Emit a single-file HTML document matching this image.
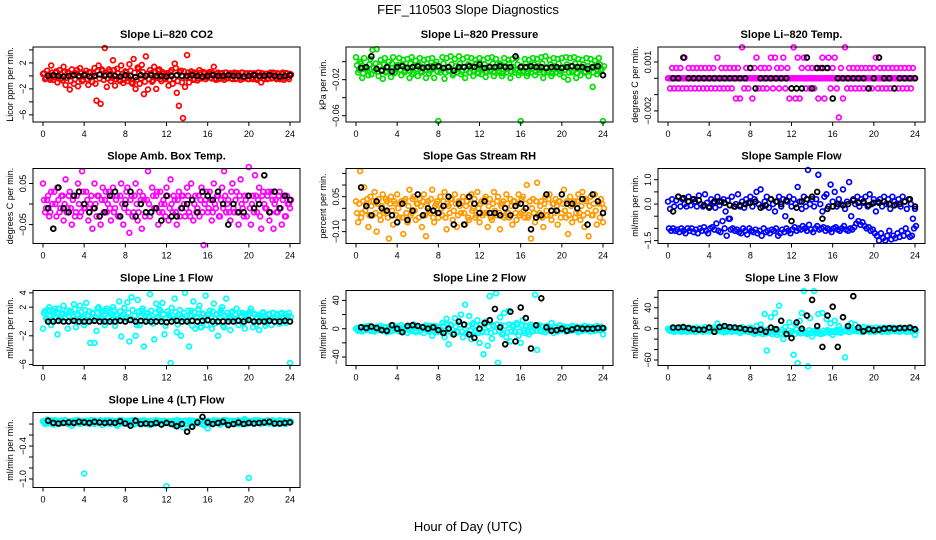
<!DOCTYPE html>
<html><head><meta charset="utf-8"><title>FEF_110503 Slope Diagnostics</title>
<style>
html,body{margin:0;padding:0;background:#fff;}
svg{display:block;font-family:"Liberation Sans",sans-serif;}
</style></head>
<body>
<svg id="chart" width="936" height="540" viewBox="0 0 936 540">
<text x="468" y="14" text-anchor="middle" font-size="13">FEF_110503  Slope Diagnostics</text>
<text x="468" y="531" text-anchor="middle" font-size="13">Hour of Day (UTC)</text>
</svg>
<script>
const xTicks = [0,4,8,12,16,20,24];
const colorStep = 0.2;
const blackStep = 0.5;

// ---- Panel 1: Li-820 CO2
const co2Vals = [0.3,-0.5,0.8,-0.3,1.6,-0.6,0.5,-1.0,0.9,-0.4,1.4,
-1.4,0.6,-2.1,1.0,-1.2,0.4,-1.6,1.2,-0.8,0.2,
0.8,-1.4,0.5,-0.9,1.2,-3.8,1.6,-4.3,0.8,4.3,
-1.7,1.0,-0.8,2.4,-1.5,1.1,-0.6,1.6,-1.1,0.7,
-0.8,1.8,-1.0,2.6,-2.0,1.3,-1.2,1.7,-2.8,3.0,
-2.1,0.9,-0.9,1.4,-2.0,0.8,-0.5,0.6,-0.3,0.4,
-1.5,0.6,-1.2,1.9,-2.6,-4.6,0.8,-6.5,-1.7,3.2,
-1.0,0.7,-0.6,0.5,-0.7,0.9,-0.4,0.6,-0.5,0.3,
0.6,-0.4,1.4,-0.6,0.5,-0.3,0.4,-0.6,0.5,-0.3,
0.4,-0.5,0.5,-0.4,0.3,-0.6,0.5,-0.3,0.4,-0.5,
0.4,-0.5,0.3,-0.6,0.5,-1.0,-0.4,0.3,-0.5,0.4,
-0.4,0.5,-0.3,0.4,-0.5,0.3,-0.6,0.4,-0.2,0.3];
const co2Vals2 = [0.4,-0.3,0.2,-0.6,0.5,-0.2,0.7,-0.4,0.3,-0.7,0.6,
-0.3,0.4,-0.8,0.2,-0.5,0.9,-0.2,0.4,-0.6,0.3,
-0.5,0.6,-0.2,0.4,-1.2,0.8,-0.4,1.0,-0.6,0.2,
-0.4,0.7,-0.3,0.9,-0.5,0.4,-0.8,0.3,-0.6,0.5,
-0.3,0.8,-1.2,0.5,-0.6,1.1,-0.4,0.6,-0.9,0.3,
-0.5,0.4,-0.7,0.6,-0.3,1.0,-0.8,0.3,-0.5,0.2,
-0.6,0.9,-0.4,1.2,-0.8,0.5,-1.0,0.7,-0.3,0.5,
-0.3,0.4,-0.5,0.3,-0.4,0.5,-0.3,0.4,-0.2,0.5,
-0.3,0.4,-0.4,0.3,-0.5,0.4,-0.3,0.5,-0.4,0.3,
-0.4,0.3,-0.5,0.4,-0.3,0.5,-0.4,0.3,-0.5,0.4,
-0.3,0.4,-0.4,0.5,-0.3,0.4,-0.5,0.3,-0.4,0.5,
-0.3,0.4,-0.5,0.3,-0.4,0.5,-0.3,0.4,-0.5,0.2];
const co2Black = [0,0.1,0,-0.1,0,0.1,0,0.1,-0.1,0,0.2,0,0.1,0,-0.1,0.1,0,-0.2,0.1,0,0.1,0,0,-0.1,0,0.1,0,0,0.1,0,-0.1,0,0.1,0,0,0.1,0,0,-0.1,0,0.1,0,0,0.1,0,-0.1,0,0.1];
const co2Ticks = [4,2,0,-2,-4,-6];
const co2Labels = ["","2","","\u22122","","\u22126"];

// ---- Panel 2: Li-820 Pressure
const presVals = [0.005,-0.012,0.0,-0.018,0.004,-0.008,-0.015,0.003,0.013,-0.01,0.014,
-0.016,0.002,-0.019,0.004,-0.011,0.0,-0.017,0.005,-0.012,-0.004,
0.004,-0.015,0.002,-0.01,0.003,-0.018,0.005,-0.012,0.001,-0.016,
0.004,-0.012,0.002,-0.018,0.003,-0.01,0.004,-0.018,0.0,-0.066,
-0.012,0.005,-0.019,0.004,-0.01,0.006,-0.015,0.003,-0.012,0.006,
-0.014,0.003,-0.018,0.005,-0.012,0.004,-0.016,0.002,-0.012,0.004,
-0.014,0.002,-0.017,0.004,-0.011,0.005,-0.016,0.003,-0.012,-0.002,
-0.016,0.004,-0.012,0.002,-0.018,0.003,-0.012,0.004,-0.015,-0.066,
-0.012,0.003,-0.016,0.002,-0.012,0.004,-0.015,0.003,-0.012,0.005,
-0.018,0.006,-0.012,0.002,-0.016,0.004,-0.012,0.003,-0.014,0.004,
-0.017,0.005,-0.02,0.004,-0.012,0.005,-0.018,0.003,-0.015,0.002,
-0.012,0.004,-0.016,0.003,-0.028,0.001,-0.014,0.004,-0.01,-0.066];
const presVals2 = [-0.004,-0.009,-0.002,-0.013,-0.006,-0.01,-0.003,-0.014,-0.007,-0.002,-0.011,
-0.005,-0.009,-0.003,-0.012,-0.006,-0.01,-0.002,-0.013,-0.007,-0.004,
-0.009,-0.003,-0.012,-0.006,-0.01,-0.002,-0.014,-0.005,-0.008,-0.003,
-0.011,-0.006,-0.009,-0.002,-0.013,-0.005,-0.008,-0.003,-0.011,-0.006,
-0.009,-0.002,-0.012,-0.006,-0.01,-0.003,-0.013,-0.005,-0.008,-0.002,
-0.011,-0.006,-0.009,-0.003,-0.012,-0.005,-0.01,-0.002,-0.013,-0.006,
-0.008,-0.003,-0.011,-0.005,-0.009,-0.002,-0.012,-0.006,-0.01,-0.003,
-0.013,-0.005,-0.008,-0.002,-0.011,-0.006,-0.009,-0.003,-0.012,-0.005,
-0.01,-0.002,-0.013,-0.006,-0.008,-0.003,-0.011,-0.005,-0.009,-0.002,
-0.012,-0.006,-0.01,-0.003,-0.013,-0.005,-0.008,-0.002,-0.011,-0.006,
-0.009,-0.003,-0.012,-0.005,-0.01,-0.002,-0.013,-0.006,-0.008,-0.003,
-0.011,-0.005,-0.009,-0.002,-0.012,-0.006,-0.01,-0.003,-0.008,-0.005];
const presBlack = [-0.007,-0.006,0.006,-0.008,-0.01,-0.006,-0.011,-0.006,-0.005,-0.007,-0.006,-0.005,-0.007,-0.006,-0.006,-0.005,-0.007,-0.006,-0.01,-0.006,-0.006,-0.005,-0.006,-0.003,-0.007,-0.006,-0.006,-0.005,-0.006,-0.006,0.006,-0.006,-0.006,-0.005,-0.006,-0.006,-0.007,-0.006,-0.006,-0.007,-0.006,-0.005,-0.006,-0.006,-0.008,-0.006,-0.005,-0.015];
const presTicks = [0,-0.02,-0.04,-0.06];
const presLabels = ["","\u22120.02","","\u22120.06"];

// ---- Panel 3: Li-820 Temp (values in 0.001 degC/min)
const tempVals = [0,-.62,.63,-.62,.63,-.62,.63,-.62,1.27,-.62,.63,
-.62,.63,-.62,.63,-.62,.63,-.62,.63,-.62,.63,
-.62,.63,-.62,1.27,-.62,.63,-.62,.63,-.62,.63,
-.62,.63,-1.24,.63,-1.24,1.9,-.62,.63,-.62,.63,
-1.24,.63,1.27,-.62,.63,-.62,.63,-.62,.63,1.27,
-.62,1.27,.63,-.62,.63,1.27,-.62,.63,-1.24,-.62,
1.9,-1.24,1.27,-1.24,.63,1.27,-.62,.63,-.62,.63,
-.62,.63,-1.24,.63,1.27,-1.24,.63,1.27,-.62,.63,
1.27,-.62,-2.4,.63,-1.24,1.9,-.62,.63,-.62,.63,
-.62,.63,-.62,.63,-.62,.63,-.62,.63,-.62,.63,
1.27,-.62,.63,-.62,.63,-.62,.63,-.62,.63,-.62,
.63,-.62,.63,-.62,.63,-.62,.63,-.62,.63,0];
const tempZero = [0,0,0,0,0,0,0,0,0,0,0,0,0,0,0,0,0,0,0,0,0,0,0,0,0,0,0,0,0,0,0,0,0,0,0,0,0,0,0,0,0,0,0,0,0,0,0,0,0,0,0,0,0,0,0,0,0,0,0,0,0,0,0,0,0,0,0,0,0,0,0,0,0,0,0,0,0,0,0,0,0,0,0,0,0,0,0,0,0,0,0,0,0,0,0,0,0,0,0,0,0,0,0,0,0,0,0,0,0,0,0,0,0,0,0,0,0,0,0,0];
const tempBlack = [0,0,1.27,0,0,0,0,0,0,0,0,0,0,0,0,.63,-.62,0,0,0,0,0,0,-.62,-.62,-.62,1.27,-.62,.63,.63,.63,-1.24,0,0,0,0,0,0,-.62,0,1.27,0,0,-.62,0,0,0,0];
const tempTicks = [1,0,-1,-2];
const tempLabels = ["0.001","","","\u22120.002"];

// ---- Panel 4: Amb. Box Temp
const ambVals = [0.05,-0.02,0.01,-0.03,0.03,-0.06,0.0,0.04,-0.02,0.02,-0.04,
0.06,-0.01,0.03,-0.05,0.02,-0.02,0.05,-0.03,0.08,-0.01,
0.03,-0.04,0.0,-0.06,0.05,-0.03,0.02,-0.05,0.04,0.01,
-0.02,0.03,-0.04,0.04,-0.01,0.02,-0.03,0.05,-0.05,0.01,
0.04,-0.07,0.02,-0.02,0.05,-0.04,0.03,-0.06,0.01,-0.02,
0.08,-0.03,0.04,-0.01,0.02,-0.05,0.03,-0.02,0.0,0.04,
-0.04,0.06,-0.02,0.01,-0.05,0.03,-0.01,0.02,-0.03,0.04,
-0.02,0.05,-0.04,0.02,-0.01,-0.03,0.04,-0.1,0.01,-0.02,
0.03,-0.04,0.05,-0.01,0.02,-0.03,0.04,0.08,-0.02,0.01,
-0.04,0.05,-0.02,0.03,-0.05,0.06,-0.01,0.02,-0.03,0.09,
-0.05,0.02,0.07,-0.02,0.04,-0.06,0.03,-0.01,0.02,-0.04,
0.03,-0.06,0.01,-0.02,0.03,-0.05,0.02,-0.03,0.0,-0.01];
const ambVals2 = [0.01,-0.01,0.02,-0.02,0.0,0.03,-0.03,0.01,-0.01,0.02,0.0,
-0.02,0.02,-0.01,0.01,-0.03,0.02,0.0,-0.02,0.03,-0.01,
0.01,-0.02,0.02,-0.01,0.0,0.02,-0.03,0.01,-0.02,0.03,
0.0,-0.01,0.02,-0.02,0.01,-0.03,0.02,0.0,-0.01,0.03,
-0.02,0.01,-0.03,0.02,0.0,-0.02,0.01,0.02,-0.03,0.01,
0.0,-0.02,0.02,-0.01,0.03,-0.02,0.0,0.01,-0.03,0.02,
-0.01,0.0,0.02,-0.02,0.01,-0.03,0.02,0.0,-0.01,0.02,
-0.03,0.01,0.0,-0.02,0.02,0.01,-0.02,0.0,0.03,-0.01,
0.01,-0.02,0.0,0.02,-0.03,0.01,-0.01,0.02,0.0,-0.02,
0.03,-0.01,0.01,-0.02,0.02,0.0,-0.03,0.01,0.02,-0.01,
0.0,-0.02,0.02,0.01,-0.03,0.02,0.0,-0.01,0.03,-0.02,
0.01,0.0,-0.02,0.02,-0.01,0.01,-0.03,0.02,0.0,0.01];
const ambBlack = [-0.01,-0.06,0.04,-0.01,-0.02,0.02,0.03,0.0,-0.02,-0.01,-0.03,-0.02,0.02,0.03,-0.03,0.0,0.03,-0.03,0.0,-0.02,-0.02,-0.01,-0.04,0.02,-0.03,-0.03,-0.01,0.0,0.01,-0.02,0.03,0.02,0.01,0.03,0.0,-0.05,0.0,-0.02,-0.02,0.02,-0.01,0.0,0.07,-0.02,0.03,-0.01,0.02,0.01];
const ambTicks = [0.05,0,-0.05];
const ambLabels = ["0.05","","\u22120.05"];

// ---- Panel 5: Gas Stream RH
const rhVals = [0.03,-0.06,0.16,-0.02,0.09,0.02,-0.08,0.05,-0.03,0.07,-0.1,
0.04,-0.05,0.06,-0.01,0.03,-0.13,0.05,-0.07,0.02,0.06,
-0.04,0.03,-0.11,0.04,-0.06,0.08,-0.02,0.05,-0.05,0.02,
0.04,-0.08,0.06,-0.12,0.03,-0.02,0.08,-0.06,0.02,-0.04,
0.05,-0.03,0.07,-0.09,0.01,0.04,-0.05,0.06,-0.08,0.03,
-0.02,0.05,-0.07,0.03,-0.05,0.06,0.0,-0.04,0.07,-0.06,
0.03,-0.02,0.05,-0.08,0.04,-0.05,0.07,-0.03,0.05,-0.09,
0.02,-0.04,0.06,-0.02,0.04,-0.07,0.03,-0.05,0.06,-0.02,
0.05,-0.04,0.1,-0.03,-0.13,0.04,-0.06,0.11,-0.02,0.03,
-0.08,0.05,-0.03,0.06,-0.05,0.02,0.04,-0.07,0.03,-0.02,
0.08,-0.04,-0.11,0.05,-0.06,0.03,-0.02,0.06,-0.05,0.07,
-0.08,0.03,-0.12,0.05,-0.03,0.06,-0.07,0.02,0.04,-0.06];
const rhVals2 = [-0.02,0.02,-0.04,0.03,-0.01,0.04,-0.03,0.01,0.03,-0.02,0.02,
-0.03,0.01,-0.02,0.04,-0.04,0.02,-0.01,0.03,-0.03,0.0,
0.02,-0.04,0.03,-0.02,0.01,-0.03,0.04,-0.01,0.02,-0.04,
0.01,0.03,-0.03,0.02,-0.01,0.04,-0.04,0.01,0.03,-0.02,
0.0,0.03,-0.04,0.02,-0.02,0.04,-0.01,0.02,-0.03,0.01,
0.03,-0.02,0.01,-0.04,0.02,-0.01,0.04,-0.03,0.0,0.02,
-0.03,0.04,-0.02,0.01,-0.04,0.02,-0.01,0.03,-0.02,0.01,
0.03,-0.03,0.02,-0.04,0.01,0.03,-0.02,0.02,-0.03,0.04,
-0.01,0.02,-0.04,0.03,0.0,-0.02,0.03,-0.03,0.01,-0.04,
0.02,-0.01,0.04,-0.03,0.02,-0.02,0.01,0.03,-0.04,0.02,
-0.01,0.03,-0.03,0.01,0.02,-0.04,0.03,-0.02,0.01,-0.03,
0.04,-0.02,0.01,-0.03,0.02,-0.01,0.03,-0.04,0.02,0.0];
const rhBlack = [0.09,0.01,-0.03,0.03,0.0,-0.01,-0.03,-0.06,0.02,-0.05,-0.01,0.06,-0.03,0.0,-0.01,-0.02,0.01,0.05,-0.07,0.02,-0.07,0.05,0.02,-0.02,0.03,-0.02,-0.02,-0.03,0.0,-0.03,0.01,0.02,0.0,-0.09,-0.04,-0.03,0.06,-0.01,-0.01,0.06,0.02,0.02,0.0,0.04,-0.07,0.06,0.03,-0.02];
const rhTicks = [0.15,0.10,0.05,0,-0.05,-0.10];
const rhLabels = ["","","0.05","","","\u22120.10"];

// ---- Panel 6: Sample Flow
const sfUpper = [0.1,-0.2,0.2,-0.1,0.15,0.3,-0.1,0.2,0.0,-0.1,0.3,
-0.05,0.2,0.1,-0.1,0.35,0.0,-0.1,0.4,0.05,-0.1,
0.2,0.05,-0.15,0.3,-0.05,0.1,0.2,-0.3,0.15,-0.6,
0.3,-0.1,0.0,0.4,-0.1,0.1,-0.15,0.2,0.05,0.3,
-0.1,0.2,0.5,0.0,0.6,-0.1,0.1,0.3,-0.15,0.2,
0.0,-0.3,0.1,0.3,-0.1,0.2,-0.5,0.1,0.3,-0.1,
0.2,0.0,0.7,0.1,-0.2,0.3,-0.1,1.4,0.0,0.2,
-0.1,0.2,1.2,0.0,-0.3,0.3,0.4,-0.1,0.8,0.1,
0.5,-0.1,0.2,0.0,0.6,-0.2,0.1,0.9,-0.5,0.2,
0.0,0.3,-0.1,0.2,0.05,0.3,-0.1,0.4,0.0,0.2,
-0.3,0.1,0.2,-0.1,0.3,0.0,0.2,-0.2,0.3,0.1,
0.0,0.2,-0.1,0.3,0.1,-0.2,0.2,0.0,-0.6,-0.2];
const sfLower = [-1.0,-1.1,-1.0,-1.1,-1.05,-1.15,-1.0,-1.1,-1.2,-1.0,-1.1,
-1.0,-1.15,-1.05,-1.2,-1.0,-1.1,-0.95,-1.1,-1.2,-1.0,
-0.95,-1.05,-0.8,-1.1,-1.15,-0.7,-1.0,-1.3,-0.6,-1.05,
-1.0,-1.1,-1.05,-1.15,-1.2,-1.0,-1.1,-1.25,-1.0,-1.1,
-1.15,-1.05,-1.2,-1.1,-1.3,-1.0,-1.15,-1.1,-1.2,-1.05,
-1.1,-1.0,-1.3,-1.2,-1.05,-1.15,-1.0,-1.1,-1.2,-1.05,
-0.95,-1.1,-1.0,-1.05,-0.9,-1.0,-1.1,-0.85,-1.05,-1.15,
-1.0,-0.9,-1.05,-1.0,-0.95,-1.1,-1.0,-1.05,-1.15,-1.0,
-0.95,-1.05,-1.1,-1.0,-0.9,-1.05,-1.1,-1.0,-1.05,-0.95,
-0.8,-0.7,-0.85,-0.75,-0.9,-1.0,-0.95,-1.1,-1.05,-1.2,
-1.3,-1.5,-1.2,-1.4,-1.5,-1.3,-1.1,-1.45,-1.3,-1.4,
-1.2,-1.35,-1.1,-1.3,-1.0,-1.2,-1.35,-1.3,-1.0,-0.9];
const sfBlack = [-0.3,0.3,0.25,0.1,0.2,0.15,-0.05,-0.15,0.1,0.1,0.05,-0.05,-0.1,-0.05,0.0,0.05,0.1,-0.15,-0.05,0.2,0.1,0.0,0.15,-0.7,-0.15,0.1,0.2,0.3,0.5,-0.6,-0.2,-0.1,0.0,-0.05,0.0,0.15,0.05,0.1,-0.05,0.05,0.05,0.1,0.0,-0.05,0.0,0.1,0.2,-0.1];
const sfTicks = [1.0,0.5,0,-0.5,-1.0,-1.5];
const sfLabels = ["1.0","","0.0","","","\u22121.5"];

// ---- Panel 7: Line 1 Flow
const l1Vals = [-1.0,1.5,0.3,2.0,-0.5,1.0,1.8,-1.8,0.6,1.2,2.2,
0.5,-1.0,1.5,0.2,2.4,-0.8,1.0,2.2,0.3,-0.5,
2.6,0.8,-3.0,1.2,-3.0,-1.3,2.0,0.4,1.5,-0.5,
1.8,0.6,1.0,2.0,-0.6,0.8,2.8,-2.1,1.0,0.4,
2.7,-2.8,3.4,0.2,-2.0,3.0,-0.5,1.5,-3.5,0.8,
1.2,3.8,0.3,-2.5,2.5,0.6,1.5,2.6,-1.8,0.5,
1.0,-5.8,0.8,3.2,-1.5,1.0,-2.0,0.4,4.0,0.8,
-3.5,1.5,2.8,-1.0,0.6,2.2,-0.8,1.0,3.6,0.2,
1.5,-1.0,2.5,0.4,-2.0,1.2,2.0,-0.8,3.2,0.6,
-1.2,1.4,0.3,1.8,-0.5,0.8,1.2,-1.0,0.5,1.0,
1.8,-0.8,1.0,0.4,-1.2,0.8,1.3,-0.6,0.4,1.0,
-0.5,1.2,0.5,1.0,-0.3,1.2,0.6,-0.2,0.8,-5.8];
const l1Vals2 = [1.2,0.4,1.6,0.8,0.2,1.4,0.6,1.8,0.3,1.0,0.5,
1.5,0.7,1.2,0.1,1.7,0.9,0.4,1.3,0.6,1.6,
0.8,1.4,0.2,1.1,0.5,1.8,0.7,1.2,0.3,1.5,
0.6,1.3,0.2,1.6,0.9,0.4,1.4,0.7,1.9,0.5,
1.2,0.3,1.6,0.8,-0.5,1.4,0.6,1.8,0.2,1.1,
0.7,1.5,-0.3,1.2,0.5,1.7,0.4,1.0,-0.6,1.4,
0.6,1.9,0.3,1.3,-0.4,1.6,0.7,1.2,0.2,1.5,
0.8,-0.6,1.3,0.5,1.7,-0.8,1.1,0.4,-0.5,1.0,
0.6,1.4,-0.3,1.0,0.5,1.6,-0.6,0.8,1.2,0.3,
1.3,0.5,1.0,0.2,1.2,0.6,-0.3,1.0,0.4,1.4,
0.5,1.1,-0.4,0.9,0.3,1.2,0.6,-0.2,1.0,0.4,
1.2,0.6,0.9,0.3,1.1,0.5,1.0,0.4,1.2,0.6];
const l1Black = [0,0,0.1,0,0,0.1,0,0,0,0.1,0,0,0,0,0.1,0,0.2,0,0.1,0,0,0,0,-0.1,0,0.1,0,0,0.1,0,0.1,0.2,0,0,0,0,0,0.1,0,0.2,0,0,0,0.1,0,0,0.1,0];
const l1Ticks = [4,2,0,-2,-4,-6];
const l1Labels = ["4","2","","\u22122","","\u22126"];

// ---- Panel 8: Line 2 Flow
const l2Vals = [0,-3,2,-4,3,-2,4,-3,2,-4,3,
-2,4,-3,2,-5,3,-4,5,-2,3,
-4,5,-3,2,-6,4,-3,6,-5,3,
-4,2,-6,5,-3,4,-10,3,-5,2,
-4,8,-12,14,-22,6,-8,15,-4,10,
20,-12,34,-6,18,-15,8,-3,12,-20,
-5,-36,10,-24,46,-14,3,50,-48,16,
-8,22,-12,25,-18,5,-4,8,-10,-20,
12,-6,4,-8,6,-3,48,-30,5,-4,
3,-5,4,-2,8,-6,3,-4,5,-2,
3,-4,2,-3,4,-2,3,-5,2,-3,
4,-2,3,-4,2,-3,4,-2,3,-8];
const l2Vals2 = [1,-1,2,-2,1,-1,2,-1,1,-2,2,
-1,1,-2,2,-1,1,-2,1,-1,2,
-2,1,-1,2,-2,1,-1,2,-3,1,
-2,3,-1,2,-4,3,-2,4,-3,2,
-5,4,-3,6,-4,5,-6,3,-5,6,
-4,5,-6,4,-3,6,-5,4,-6,5,
-4,6,-5,3,-6,5,-4,6,-3,5,
-6,4,-5,6,-4,3,-5,6,-4,5,
-3,4,-5,3,-4,2,-3,4,-2,3,
-2,1,-2,2,-1,2,-2,1,-1,2,
-1,2,-2,1,-1,2,-2,1,-2,1,
-1,2,-1,1,-2,1,-1,2,-1,0];
const l2Black = [2,1,3,1,-2,-3,5,0,-5,4,5,4,2,0,2,-2,-6,0,-8,10,6,-8,-13,0,8,12,28,2,-22,24,-18,30,15,-28,5,43,2,-3,-2,0,-3,-1,1,0,0,0,1,1];
const l2Ticks = [40,20,0,-20,-40];
const l2Labels = ["40","","0","","\u221240"];

// ---- Panel 9: Line 3 Flow
const l3Vals = [0,-4,2,-6,1,-5,3,-4,1,-6,2,
-5,1,-6,2,-4,0,-6,3,-5,1,
-4,2,-6,10,-5,1,-7,2,-4,0,
-6,2,-5,1,-8,3,-5,0,-6,2,
-4,-10,5,-6,8,-10,28,-42,-8,22,
-5,30,-12,44,15,-20,3,-10,12,-6,
-50,8,-66,15,30,72,-8,-72,20,-15,
72,-6,28,-10,30,-8,18,-5,10,-12,
15,-4,5,-8,22,-55,3,-6,10,-4,
8,-5,2,-6,3,-4,2,-6,1,-5,
2,-4,1,-6,2,-4,1,-5,2,-4,
1,-5,2,-4,1,-6,2,-4,0,-12];
const l3Vals2 = [-3,-1,-5,-2,-4,0,-6,-2,-3,-5,-1,
-4,-2,-6,-1,-3,-5,-2,-4,0,-5,
-2,-6,-1,-4,-3,-5,-1,-6,-2,-4,
-1,-5,-3,-6,-2,-4,0,-5,-3,-7,
-2,-6,-4,-8,0,-5,-9,-2,-6,-10,
-1,-7,-4,-9,-2,-6,-10,-3,-8,-5,
-10,-2,-7,-9,-4,-6,-10,-3,-8,-5,
-9,-2,-6,-10,-4,-7,-3,-8,-5,-6,
-3,-7,-2,-6,-4,-5,-1,-6,-3,-4,
-2,-5,-1,-6,-3,-4,-2,-5,-1,-6,
-3,-4,-1,-5,-2,-6,-3,-4,-1,-5,
-2,-6,-3,-4,-1,-5,-2,-6,-3,-4];
const l3Black = [2,2,3,1,-1,-2,-2,2,-6,3,5,3,2,1,-1,-2,-4,-2,-6,2,-1,15,-10,-18,12,0,25,55,5,-35,25,42,-35,22,5,62,2,-5,-1,-3,-2,0,1,0,1,1,2,-1];
const l3Ticks = [60,40,20,0,-20,-40,-60];
const l3Labels = ["","40","","0","","","\u221260"];

// ---- Panel 10: Line 4 (LT) Flow
const l4Vals = [0.05,0.0,0.08,0.02,0.06,-0.01,0.07,0.03,0.0,0.06,0.02,
0.07,0.0,0.05,-0.03,0.06,0.02,0.07,0.0,0.05,-0.9,
0.06,0.01,0.07,0.03,0.0,0.06,0.02,0.07,-0.02,0.05,
0.03,0.07,0.0,0.06,0.02,-0.03,0.07,0.01,0.05,0.02,
0.06,0.0,0.07,-0.01,0.05,0.02,0.06,0.0,0.07,0.01,
0.05,-0.02,0.06,0.0,0.07,0.02,0.05,0.0,0.06,-1.13,
0.05,0.0,0.06,-0.03,0.07,0.01,0.05,-0.06,0.06,0.0,
0.07,-0.05,0.06,0.02,0.05,0.01,0.07,-0.02,0.06,-0.08,
0.05,0.0,0.07,0.02,0.06,-0.01,0.05,0.02,0.07,0.0,
0.06,0.01,0.05,0.0,0.07,0.02,0.06,0.09,0.0,-0.98,
0.05,0.01,0.07,0.02,0.06,0.0,0.05,0.02,0.07,0.01,
0.06,0.0,0.05,0.02,0.07,0.01,0.06,0.0,0.05,0.03];
const l4Vals2 = [0.03,0.06,0.01,0.04,0.07,0.02,0.05,0.0,0.06,0.03,0.07,
0.02,0.05,0.01,0.06,0.03,0.07,0.01,0.04,0.06,0.02,
0.05,0.0,0.04,0.07,0.02,0.05,0.01,0.06,0.03,0.07,
0.01,0.04,0.06,0.02,0.05,0.0,0.04,0.07,0.02,0.05,
0.01,0.06,0.03,0.07,0.01,0.04,0.06,0.02,0.05,0.0,
0.03,0.06,0.01,0.04,0.02,0.06,0.01,0.05,0.02,0.04,
0.01,0.05,0.02,0.04,0.0,0.06,0.02,0.05,0.01,0.04,
0.02,0.06,0.0,0.05,0.02,0.06,0.01,0.05,0.03,0.06,
0.01,0.05,0.03,0.06,0.01,0.04,0.07,0.02,0.05,0.01,
0.04,0.06,0.02,0.05,0.0,0.04,0.07,0.02,0.05,0.03,
0.06,0.02,0.04,0.07,0.01,0.05,0.03,0.06,0.02,0.04,
0.07,0.02,0.05,0.01,0.06,0.03,0.05,0.02,0.06,0.04];
const l4Black = [0.06,0.02,0.01,0.02,0.03,0.02,0.04,0.03,0.02,0.04,0.03,0.02,0.03,0.02,0.05,0.01,-0.03,0.06,0.0,0.01,0.0,0.02,-0.01,0.02,0.0,-0.04,0.0,-0.14,-0.05,0.03,0.13,0.03,0.0,0.02,0.04,-0.02,0.0,0.03,0.0,0.02,0.01,0.02,0.03,0.04,0.01,0.01,0.02,0.03];
const l4Ticks = [0,-0.2,-0.4,-0.6,-0.8,-1.0];
const l4Labels = ["","","\u22120.4","","","\u22121.0"];

const svg = document.getElementById('chart');
const NS = 'http://www.w3.org/2000/svg';
function mk(tag, attrs, parent) {
  const e = document.createElementNS(NS, tag);
  for (const k in attrs) e.setAttribute(k, attrs[k]);
  (parent || svg).appendChild(e);
  return e;
}

const colLeft = [33, 346, 658];
const rowTop = [47, 168.5, 290.5, 412.5];
const boxW = 267, boxH = 75;

function panel(cfg) {
  const L = colLeft[cfg.col], T = rowTop[cfg.row];
  const g = mk('g', {});
  
  
  const xs = t => L + 10 + (t / 24) * (boxW - 20);
  const ys = v => T + (cfg.yMax - v) / (cfg.yMax - cfg.yMin) * boxH;
  const title = mk('text', {x: L + boxW / 2, y: T - 9, 'text-anchor': 'middle', 'font-size': 11, 'font-weight': 'bold'}, g);
  title.textContent = cfg.title;
  
  
  cfg.series.forEach(s => {
    const sg = mk('g', {fill: 'none', stroke: s.color, 'stroke-width': s.color === '#000' ? 1.8 : 1.7}, g);
    
    
    s.values.forEach((v, i) => {
      const t = s.offset + i * s.step;
      const c = mk('circle', {cx: xs(t).toFixed(1), cy: ys(v).toFixed(1), r: 2.4}, sg);
      
      
    });
  });
  const box = mk('rect', {x: L, y: T, width: boxW, height: boxH, fill: 'none', stroke: '#000', 'stroke-width': 1}, g);
  
  
  const xa = mk('g', {}, g);
  
  
  xTicks.forEach(t => {
    mk('line', {x1: xs(t), x2: xs(t), y1: T + boxH, y2: T + boxH + 4, stroke: '#000'}, xa);
    const tx = mk('text', {x: xs(t), y: T + boxH + 15, 'text-anchor': 'middle', 'font-size': 9}, xa);
    tx.textContent = t;
    
    
  });
  const ya = mk('g', {}, g);
  
  
  cfg.ticks.forEach((v, i) => {
    const y = ys(v);
    mk('line', {x1: L - 4, x2: L, y1: y, y2: y, stroke: '#000'}, ya);
    if (cfg.labels[i]) {
      const tx = mk('text', {x: L - 7, y: y, 'text-anchor': 'middle', 'font-size': 9, transform: `rotate(-90 ${L - 7} ${y})`}, ya);
      tx.textContent = cfg.labels[i];
      
      
    }
  });
  const yt = mk('text', {x: L - 20, y: T + boxH / 2, 'text-anchor': 'middle', 'font-size': 9, transform: `rotate(-90 ${L - 20} ${T + boxH / 2})`}, g);
  yt.textContent = cfg.yTitle;
  
  
}

function S(name, color, values, step, offset) { return {name, color, values, step, offset}; }

panel({name:'panel-co2', title:'Slope Li\u2013820 CO2', col:0,row:0, yMin:-7.1, yMax:4.45, ticks:co2Ticks, labels:co2Labels, yTitle:'Licor ppm per min.',
  series:[S('co2-series','#ff0000',co2Vals,colorStep,0), S('co2-series-b','#ff0000',co2Vals2,colorStep,0.1), S('co2-hourly','#000',co2Black,blackStep,0.5)]});
panel({name:'panel-pressure', title:'Slope Li\u2013820 Pressure', col:1,row:0, yMin:-0.067, yMax:0.0163, ticks:presTicks, labels:presLabels, yTitle:'kPa per min.',
  series:[S('pressure-series','#00e000',presVals,colorStep,0), S('pressure-series-b','#00e000',presVals2,colorStep,0.1), S('pressure-hourly','#000',presBlack,blackStep,0.5)]});
panel({name:'panel-li820-temp', title:'Slope Li\u2013820 Temp.', col:2,row:0, yMin:-2.68, yMax:1.92, ticks:tempTicks, labels:tempLabels, yTitle:'degrees C per min.',
  series:[S('temp-zero-series','#ff00ff',tempZero,colorStep,0.1), S('temp-series','#ff00ff',tempVals,colorStep,0), S('temp-hourly','#000',tempBlack,blackStep,0.5)]});
panel({name:'panel-amb-box-temp', title:'Slope Amb. Box Temp.', col:0,row:1, yMin:-0.096, yMax:0.0865, ticks:ambTicks, labels:ambLabels, yTitle:'degrees C per min.',
  series:[S('amb-series','#ff00ff',ambVals,colorStep,0), S('amb-series-b','#ff00ff',ambVals2,colorStep,0.1), S('amb-hourly','#000',ambBlack,blackStep,0.5)]});
panel({name:'panel-gas-rh', title:'Slope Gas Stream RH', col:1,row:1, yMin:-0.151, yMax:0.171, ticks:rhTicks, labels:rhLabels, yTitle:'percent per min.',
  series:[S('rh-series','#ff9a00',rhVals,colorStep,0), S('rh-series-b','#ff9a00',rhVals2,colorStep,0.1), S('rh-hourly','#000',rhBlack,blackStep,0.5)]});
panel({name:'panel-sample-flow', title:'Slope Sample Flow', col:2,row:1, yMin:-1.62, yMax:1.46, ticks:sfTicks, labels:sfLabels, yTitle:'ml/min per min.',
  series:[S('sample-upper-series','#0000ff',sfUpper,colorStep,0), S('sample-lower-series','#0000ff',sfLower,colorStep,0.1), S('sample-hourly','#000',sfBlack,blackStep,0.5)]});
panel({name:'panel-line1-flow', title:'Slope Line 1 Flow', col:0,row:2, yMin:-6.15, yMax:4.33, ticks:l1Ticks, labels:l1Labels, yTitle:'ml/min per min.',
  series:[S('line1-series','#00ffff',l1Vals,colorStep,0), S('line1-series-b','#00ffff',l1Vals2,colorStep,0.1), S('line1-hourly','#000',l1Black,blackStep,0.5)]});
panel({name:'panel-line2-flow', title:'Slope Line 2 Flow', col:1,row:2, yMin:-52, yMax:54, ticks:l2Ticks, labels:l2Labels, yTitle:'ml/min per min.',
  series:[S('line2-series','#00ffff',l2Vals,colorStep,0), S('line2-series-b','#00ffff',l2Vals2,colorStep,0.1), S('line2-hourly','#000',l2Black,blackStep,0.5)]});
panel({name:'panel-line3-flow', title:'Slope Line 3 Flow', col:2,row:2, yMin:-70.5, yMax:73, ticks:l3Ticks, labels:l3Labels, yTitle:'ml/min per min.',
  series:[S('line3-series','#00ffff',l3Vals,colorStep,0), S('line3-series-b','#00ffff',l3Vals2,colorStep,0.1), S('line3-hourly','#000',l3Black,blackStep,0.5)]});
panel({name:'panel-line4-flow', title:'Slope Line 4 (LT) Flow', col:0,row:3, yMin:-1.155, yMax:0.21, ticks:l4Ticks, labels:l4Labels, yTitle:'ml/min per min.',
  series:[S('line4-series','#00ffff',l4Vals,colorStep,0), S('line4-series-b','#00ffff',l4Vals2,colorStep,0.1), S('line4-hourly','#000',l4Black,blackStep,0.5)]});
</script>
</body></html>
